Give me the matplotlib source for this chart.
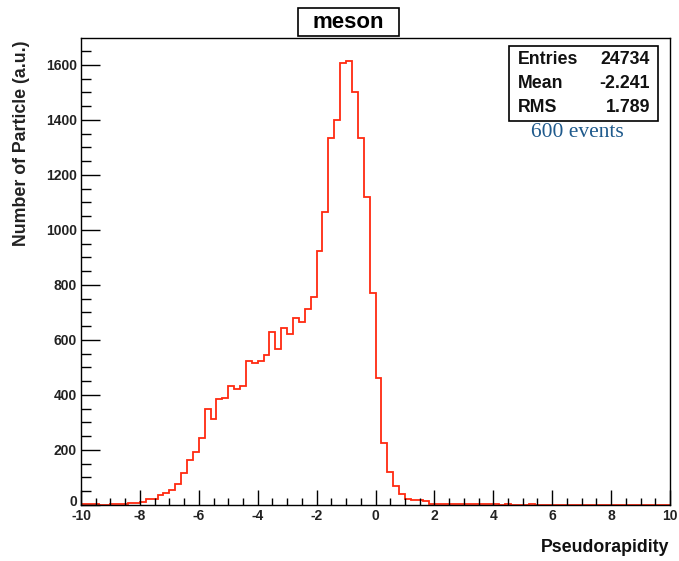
import matplotlib
matplotlib.use("Agg")
import matplotlib.pyplot as plt
import numpy as np
from matplotlib.patches import Rectangle
from matplotlib.ticker import MultipleLocator
from matplotlib.transforms import ScaledTranslation

plt.rcParams['axes.unicode_minus'] = False
plt.rcParams['font.family'] = ['Liberation Sans', 'DejaVu Sans']

# Histogram: 100 bins of width 0.2 from -10 to 10
x_min, x_max, n_bins = -10.0, 10.0, 100
counts = [3, 3, 3, 0, 0, 2, 2, 3, 6, 6,
          12, 22, 22, 35, 45, 55, 77, 115, 163, 192,
          242, 348, 314, 385, 390, 433, 422, 434, 522, 518,
          522, 546, 628, 567, 645, 622, 679, 665, 711, 755,
          925, 1064, 1333, 1400, 1606, 1613, 1500, 1333, 1120, 770,
          460, 224, 119, 69, 39, 23, 19, 17, 14, 3,
          2, 2, 2, 2, 2, 2, 2, 2, 2, 2,
          2, 0, 2, 0, 0, 0, 2, 0, 0, 0,
          0, 0, 0, 0, 0, 0, 0, 0, 0, 0,
          0, 0, 0, 0, 0, 0, 0, 0, 0, 0]

title = "meson"
x_label = "Pseudorapidity"
y_label = "Number of Particle (a.u.)"
stat_names = ["Entries", "Mean", "RMS"]
stat_values = ["24734", "-2.241", "1.789"]
note = "600 events"

edges = np.linspace(x_min, x_max, n_bins + 1)

W, H = 679, 561
fig = plt.figure(figsize=(W / 100, H / 100), dpi=100)
ax = fig.add_axes([81 / W, 1 - 505 / H, (670 - 81) / W, (505 - 38) / H])

ax.stairs(counts, edges, color='#ff2a10', linewidth=1.3, baseline=None)

ax.set_xlim(x_min, x_max)
ax.set_ylim(0, 1698)

ax.xaxis.set_major_locator(MultipleLocator(2))
ax.xaxis.set_minor_locator(MultipleLocator(0.5))
ax.yaxis.set_major_locator(MultipleLocator(200))
ax.yaxis.set_minor_locator(MultipleLocator(50))
ax.set_yticks(np.arange(0, 1601, 200))

ax.tick_params(axis='x', which='major', direction='in', length=11, width=1.0,
               labelsize=10, pad=3, colors='black')
ax.tick_params(axis='x', which='minor', direction='in', length=5, width=1.0)
ax.tick_params(axis='y', which='major', direction='in', length=13.5, width=1.0,
               labelsize=10, pad=3)
ax.tick_params(axis='y', which='minor', direction='in', length=7, width=1.0)
for lab in ax.get_xticklabels() + ax.get_yticklabels():
    lab.set_fontweight('bold')
    lab.set_color('#222222')
# nudge the y "0" label up slightly, as in the reference
zero_lab = ax.get_yticklabels()[0]
zero_lab.set_transform(zero_lab.get_transform() +
                       ScaledTranslation(0, 4 / 100, fig.dpi_scale_trans))

for s in ax.spines.values():
    s.set_linewidth(1.0)
    s.set_color('black')

# axis titles
fig.text(22 / W, 1 - 40 / H, y_label, rotation=90, ha='center', va='top',
         fontsize=12.8, fontweight='bold', color='#222222')
fig.text(669 / W, 1 - 548 / H, x_label, ha='right', va='center',
         fontsize=12.8, fontweight='bold', color='#111111')

# title box
fig.patches.append(Rectangle((298 / W, 1 - 36 / H), 101 / W, 28 / H,
                             transform=fig.transFigure, fill=True,
                             facecolor='white', edgecolor='black', linewidth=1.2))
fig.text(348.5 / W, 1 - 23 / H, title, ha='center', va='center',
         fontsize=16, fontweight='bold', color='black')

# stats box
fig.patches.append(Rectangle((509 / W, 1 - 121 / H), 149 / W, 75 / H,
                             transform=fig.transFigure, fill=True,
                             facecolor='white', edgecolor='black', linewidth=1.2,
                             zorder=5))
row_y = [59, 84, 108]
for name, val, yy in zip(stat_names, stat_values, row_y):
    fig.text(518 / W, 1 - yy / H, name, ha='left', va='center',
             fontsize=12.8, fontweight='bold', color='#111111', zorder=6)
    fig.text(650 / W, 1 - yy / H, val, ha='right', va='center',
             fontsize=12.8, fontweight='bold', color='#111111', zorder=6)

fig.text(577 / W, 1 - 132 / H, note, ha='center', va='center',
         fontsize=15.5, family='Liberation Serif', color='#1f5a8c')

fig.savefig('out.png', dpi=100, facecolor='white')
